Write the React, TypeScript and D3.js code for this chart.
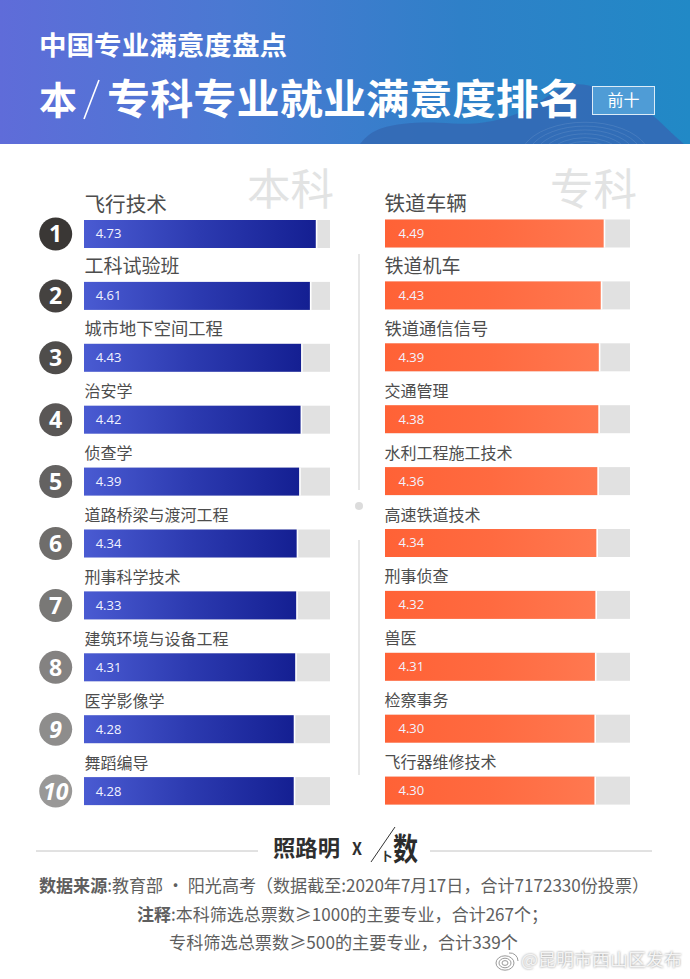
import { useEffect, useRef } from 'react';
import * as d3 from 'd3';

const ranks = ["1", "2", "3", "4", "5", "6", "7", "8", "9", "10"];
const benkeNames = ["飞行技术", "工科试验班", "城市地下空间工程", "治安学", "侦查学", "道路桥梁与渡河工程", "刑事科学技术", "建筑环境与设备工程", "医学影像学", "舞蹈编导"];
const benkeValues = [4.73, 4.61, 4.43, 4.42, 4.39, 4.34, 4.33, 4.31, 4.28, 4.28];
const zhuankeNames = ["铁道车辆", "铁道机车", "铁道通信信号", "交通管理", "水利工程施工技术", "高速铁道技术", "刑事侦查", "兽医", "检察事务", "飞行器维修技术"];
const zhuankeValues = [4.49, 4.43, 4.39, 4.38, 4.36, 4.34, 4.32, 4.31, 4.30, 4.30];

const WIDTH = 690;
const HEIGHT = 979;
const SANS = "'Noto Sans CJK SC', 'Noto Sans', sans-serif";

export default function App() {
    const svgRef = useRef<SVGSVGElement>(null);

    useEffect(() => {
        const svg = d3.select(svgRef.current);
        svg.selectAll("*").remove();
        svg.attr("width", WIDTH).attr("height", HEIGHT);

        const defs = svg.append("defs");

        const grad = (id: string, stops: string[]) => {
            const g = defs.append("linearGradient").attr("id", id)
                .attr("x1", "0%").attr("x2", "100%").attr("y1", "0%").attr("y2", "0%");
            stops.forEach((c, i) => {
                g.append("stop").attr("offset", `${(i / (stops.length - 1)) * 100}%`).attr("stop-color", c);
            });
        };
        grad("header", ["#5f6cd9", "#4a79d2", "#2f80c8", "#2189c6"]);
        grad("blueBar", ["#4a5bd2", "#2c3ab0", "#141f92"]);
        grad("orangeBar", ["#ff6236", "#ff6a40", "#ff7850"]);

        defs.append("filter").attr("id", "wm")
            .append("feGaussianBlur").attr("stdDeviation", 1.1);

        svg.append("rect").attr("width", WIDTH).attr("height", HEIGHT).attr("fill", "#ffffff");

        // Banner
        svg.append("rect").attr("width", WIDTH).attr("height", 144).attr("fill", "url(#header)");

        const mountain = d3.line().curve(d3.curveBasis);
        svg.append("path")
            .attr("d", mountain([[360, 144], [372, 130], [400, 123], [440, 122], [470, 125], [500, 120], [530, 110], [555, 90], [575, 82], [600, 88], [630, 100], [655, 116], [670, 132], [684, 144]]))
            .attr("fill", "#3468b4")
            .attr("opacity", 0.85);

        // faint rings on the mountain
        d3.range(6).forEach(i => {
            svg.append("path")
                .attr("d", d3.arc()({ innerRadius: 30 + i * 7, outerRadius: 30 + i * 7, startAngle: -1.2, endAngle: 1.2 }))
                .attr("transform", "translate(585,158) scale(1,0.55)")
                .attr("fill", "none").attr("stroke", "#ffffff").attr("stroke-opacity", 0.07);
        });

        const fitted = (text: string, x: number, y: number, length: number, size: number, weight: number, fill: string) =>
            svg.append("text")
                .attr("x", x).attr("y", y)
                .attr("textLength", length).attr("lengthAdjust", "spacingAndGlyphs")
                .style("font-family", SANS).style("font-size", `${size}px`).style("font-weight", weight)
                .style("fill", fill)
                .text(text);

        fitted("中国专业满意度盘点", 39, 55, 248, 26, 700, "#ffffff");
        fitted("本", 39, 114, 38, 38, 700, "#ffffff");
        svg.append("line").attr("x1", 84).attr("y1", 119).attr("x2", 99).attr("y2", 80)
            .attr("stroke", "#ffffff").attr("stroke-width", 1.6);
        fitted("专科专业就业满意度排名", 107, 114, 475, 41, 700, "#ffffff");

        svg.append("rect").attr("x", 592.5).attr("y", 86.5).attr("width", 62).attr("height", 28)
            .attr("fill", "#4f9cd6").attr("stroke", "#dcecf8").attr("stroke-width", 1);
        svg.append("text").attr("x", 623.5).attr("y", 106).attr("text-anchor", "middle")
            .style("font-family", SANS).style("font-size", "16px").style("fill", "#ffffff")
            .text("前十");

        // Ghost headings
        const ghost = (text: string, x: number) =>
            svg.append("text").attr("x", x).attr("y", 204.5)
                .style("font-family", SANS).style("font-size", "43.5px").style("font-weight", 400)
                .style("fill", "#e2e3e3").text(text);
        ghost("本科", 247);
        ghost("专科", 550);

        // Scales
        const y = d3.scaleBand<string>().domain(ranks).range([219, 804.1]).paddingInner(0.5477).paddingOuter(0);
        const labelSize = d3.scaleOrdinal<string, number>().domain(ranks.slice(0, 3)).range([20.6, 19, 17.3]).unknown(16);
        const badge = d3.scaleLinear<string>().domain([0, 9]).range(["#3a3735", "#999897"]);

        const drawColumn = (names: string[], values: number[], range: [number, number], trackEnd: number, fill: string, dy: number, labelDx: number, valueDx: number) => {
            const x = d3.scaleLinear().domain([0, 5]).range(range);
            const g = svg.append("g");
            const rows = g.selectAll("g").data(ranks).enter().append("g")
                .attr("transform", d => `translate(0,${(y(d) || 0) + dy})`);

            rows.append("rect")
                .attr("x", x(0)).attr("width", trackEnd - x(0)).attr("height", y.bandwidth())
                .attr("fill", "#e1e1e1");
            // white sliver between bar and track
            rows.append("rect")
                .attr("x", x(0)).attr("width", (_, i) => x(values[i]) - x(0) + 1.6).attr("height", y.bandwidth())
                .attr("fill", "#ffffff");
            rows.append("rect")
                .attr("x", x(0)).attr("width", (_, i) => x(values[i]) - x(0)).attr("height", y.bandwidth())
                .attr("fill", fill);
            rows.append("text")
                .attr("x", x(0) + valueDx).attr("y", y.bandwidth() / 2 + 4.5)
                .style("font-family", "'Open Sans', sans-serif").style("font-size", "13px")
                .style("fill", "#f2f2ff")
                .text((_, i) => values[i].toFixed(2));
            rows.append("text")
                .attr("x", x(0) + labelDx).attr("y", -8.5)
                .style("font-family", SANS).style("font-weight", 400)
                .style("font-size", d => `${labelSize(d)}px`)
                .style("fill", "#4d4d4d")
                .text((_, i) => names[i]);
        };
        drawColumn(benkeNames, benkeValues, [84, 329], 330, "url(#blueBar)", 1, 0.5, 11.7);
        drawColumn(zhuankeNames, zhuankeValues, [385, 628.5], 630, "url(#orangeBar)", 0.5, -0.5, 13.5);

        // Rank badges
        const badges = svg.append("g").selectAll("g").data(ranks).enter().append("g")
            .attr("transform", d => `translate(55.7,${(y(d) || 0) + 1 + y.bandwidth() / 2})`);
        badges.append("circle").attr("r", 16.5).attr("fill", (_, i) => badge(i));
        badges.append("text")
            .attr("text-anchor", "middle").attr("y", 8.5)
            .style("font-family", "'Open Sans', sans-serif").style("font-weight", 700)
            .style("font-size", "23px").style("fill", "#ffffff")
            .style("font-style", d => d === "9" || d === "10" ? "italic" : "normal")
            .text(d => d);

        // Divider down the middle
        [[254, 490], [540, 775]].forEach(([a, b]) => {
            svg.append("line").attr("x1", 359).attr("x2", 359).attr("y1", a).attr("y2", b)
                .attr("stroke", "#dddddd").attr("stroke-width", 1.4);
        });
        svg.append("circle").attr("cx", 359).attr("cy", 506).attr("r", 4).attr("fill", "#dcdcdc");

        // Footer
        [[36, 258], [430, 652]].forEach(([a, b]) => {
            svg.append("line").attr("x1", a).attr("x2", b).attr("y1", 851).attr("y2", 851)
                .attr("stroke", "#c4c4c4").attr("stroke-width", 1);
        });
        fitted("照路明", 273, 856, 67, 22, 700, "#2f2f2f");
        fitted("X", 352, 855, 10, 17, 700, "#2f2f2f");
        svg.append("line").attr("x1", 371).attr("y1", 862).attr("x2", 395).attr("y2", 827)
            .attr("stroke", "#333333").attr("stroke-width", 1);
        fitted("卜", 380.5, 861, 12, 12, 700, "#333333");
        fitted("数", 393, 860, 25, 31, 700, "#2b2b2b");

        const source = svg.append("text").attr("x", 39).attr("y", 892)
            .attr("textLength", 610).attr("lengthAdjust", "spacingAndGlyphs")
            .style("font-family", SANS).style("font-size", "17.5px").style("fill", "#5e5e5e");
        source.append("tspan").style("font-weight", 700).text("数据来源");
        source.append("tspan").text(":教育部 • 阳光高考（数据截至:2020年7月17日，合计7172330份投票）");

        const note = svg.append("text").attr("x", 137).attr("y", 921)
            .attr("textLength", 411).attr("lengthAdjust", "spacingAndGlyphs")
            .style("font-family", SANS).style("font-size", "17.5px").style("fill", "#5e5e5e");
        note.append("tspan").style("font-weight", 700).text("注释");
        note.append("tspan").text(":本科筛选总票数≥1000的主要专业，合计267个；");

        fitted("专科筛选总票数≥500的主要专业，合计339个", 169, 949, 349, 17.5, 400, "#5e5e5e");

        // Repost watermark
        const wm = svg.append("g");
        wm.append("text").attr("x", 521).attr("y", 966)
            .attr("textLength", 161).attr("lengthAdjust", "spacingAndGlyphs")
            .attr("filter", "url(#wm)")
            .style("font-family", SANS).style("font-size", "17px").style("fill", "#8a8a8a")
            .text("@昆明市西山区发布");
        wm.append("text").attr("x", 521).attr("y", 966)
            .attr("textLength", 161).attr("lengthAdjust", "spacingAndGlyphs")
            .style("font-family", SANS).style("font-size", "17px").style("fill", "#f4f4f4")
            .text("@昆明市西山区发布");
        [9, 6, 3].forEach(r => {
            wm.append("ellipse").attr("cx", 505).attr("cy", 963).attr("rx", r).attr("ry", r * 0.8)
                .attr("fill", "none").attr("stroke", "#9a9a9a").attr("stroke-width", 1);
        });
        wm.append("path").attr("d", "M509 953 A8 8 0 0 1 518 961").attr("fill", "none").attr("stroke", "#9a9a9a");
    }, []);

    return <svg ref={svgRef} style={{ position: "absolute", left: 0, top: 0, display: "block" }}></svg>;
}
